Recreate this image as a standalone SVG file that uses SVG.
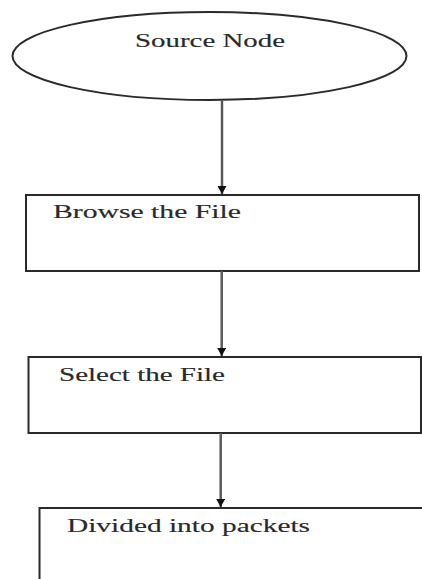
<svg xmlns="http://www.w3.org/2000/svg" width="422" height="579" viewBox="0 0 422 579">
<defs>
<marker id="ah" markerWidth="11" markerHeight="9" refX="8" refY="4.5" orient="auto" markerUnits="userSpaceOnUse">
<path d="M0,0 L8,4.5 L0,9 Z" fill="#111"/>
</marker>
<style>
.shape{fill:#fff;stroke:#2a2a2a;stroke-width:2}
.lbl{font-family:"Liberation Serif","Times New Roman",serif;font-size:18px;fill:#2a2a2a;stroke:#2a2a2a;stroke-width:0.15}
.conn{stroke:#5a5a5a;stroke-width:2.5;fill:none}
</style>
</defs>
<rect width="422" height="579" fill="#fff"/>
<g id="source-node">
<ellipse class="shape" cx="209.5" cy="56" rx="197" ry="44"/>
<text class="lbl" x="135" y="47" textLength="150" lengthAdjust="spacingAndGlyphs">Source Node</text>
</g>
<g id="browse-file">
<rect class="shape" x="26" y="195" width="393" height="76"/>
<text class="lbl" x="53" y="218" textLength="188" lengthAdjust="spacingAndGlyphs">Browse the File</text>
</g>
<g id="select-file">
<rect class="shape" x="28.5" y="357" width="392.5" height="76"/>
<text class="lbl" x="59" y="381" textLength="166" lengthAdjust="spacingAndGlyphs">Select the File</text>
</g>
<g id="divided-packets">
<rect class="shape" x="39.5" y="508" width="400" height="100"/>
<text class="lbl" x="67" y="532" textLength="243" lengthAdjust="spacingAndGlyphs">Divided into packets</text>
</g>
<g id="connectors">
<line class="conn" x1="222" y1="100" x2="222" y2="194" marker-end="url(#ah)"/>
<line class="conn" x1="221.7" y1="271" x2="221.7" y2="356" marker-end="url(#ah)"/>
<line class="conn" x1="220.7" y1="433" x2="220.7" y2="507" marker-end="url(#ah)"/>
</g>
</svg>
